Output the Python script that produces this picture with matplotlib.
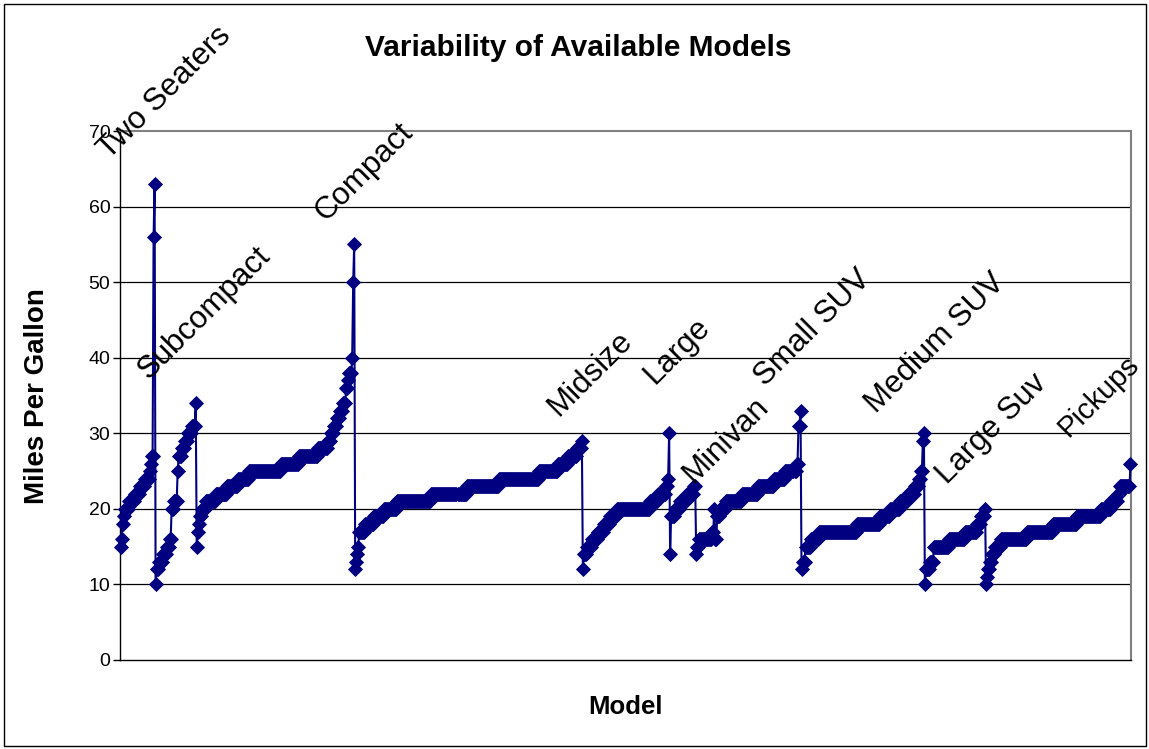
import matplotlib
matplotlib.use("Agg")
import matplotlib.pyplot as plt
from matplotlib.patches import Rectangle

plt.rcParams['font.family'] = ['Liberation Sans', 'DejaVu Sans']

W, H = 1149, 749

# Combined-mpg readings per vehicle class, sorted within each class.
# Each entry is (mpg, number of models at that mpg).
two_seaters = [(15, 1), (16, 1), (18, 1), (19, 1), (20, 4), (21, 6), (22, 5), (23, 5),
               (24, 5), (25, 1), (26, 1), (27, 2), (56, 1), (63, 1)]
subcompact = [(10, 1), (12, 2), (13, 4), (14, 4), (15, 3), (16, 2), (20, 2), (21, 4),
              (25, 1), (27, 3), (28, 3), (29, 3), (30, 4), (31, 4), (34, 1)]
compact = [(15, 1), (17, 1), (18, 1), (19, 2), (20, 4), (21, 10), (22, 11), (23, 11),
           (24, 11), (25, 32), (26, 18), (27, 19), (28, 10), (29, 3), (30, 3), (31, 3),
           (32, 3), (33, 3), (34, 3), (36, 2), (37, 1), (38, 3), (40, 1), (50, 1), (55, 1)]
midsize = [(12, 1), (13, 1), (14, 1), (15, 1), (17, 6), (18, 9), (19, 10), (20, 13),
           (21, 34), (22, 35), (23, 32), (24, 40), (25, 19), (26, 10), (27, 9), (28, 5),
           (29, 1)]
large = [(12, 1), (14, 3), (15, 5), (16, 6), (17, 6), (18, 6), (19, 7), (20, 33),
         (21, 8), (22, 8), (23, 2), (24, 1), (30, 1)]
minivan = [(14, 1), (19, 4), (20, 5), (21, 7), (22, 7), (23, 2)]
small_suv = [(14, 1), (15, 2), (16, 13), (17, 2), (20, 1), (16, 2), (19, 3), (20, 6),
             (21, 16), (22, 16), (23, 16), (24, 11), (25, 11), (26, 2), (31, 2), (33, 1)]
medium_suv = [(12, 1), (13, 3), (15, 5), (16, 8), (17, 38), (18, 23), (19, 10), (20, 10),
              (21, 8), (22, 7), (23, 4), (24, 2), (25, 2), (29, 1), (30, 1)]
large_suv = [(10, 1), (12, 4), (13, 4), (15, 15), (16, 16), (17, 12), (18, 4), (19, 4),
             (20, 1)]
pickups = [(10, 1), (11, 1), (12, 2), (13, 2), (14, 3), (15, 6), (16, 26), (17, 26),
           (18, 24), (19, 24), (20, 10), (21, 7), (22, 2), (23, 10), (26, 1)]

classes = [two_seaters, subcompact, compact, midsize, large, minivan,
           small_suv, medium_suv, large_suv, pickups]
class_names = ["Two Seaters", "Subcompact", "Compact", "Midsize", "Large", "Minivan",
               "Small SUV", "Medium SUV", "Large Suv", "Pickups"]
# baseline start of each rotated class label, in pixels from the top-left corner
label_px = [(109, 160), (149, 380), (325, 222), (558, 417), (654, 385), (693, 484),
            (765, 387), (876, 414), (947, 485), (1068, 438)]
label_size = [22.5, 22.5, 22.5, 22.5, 22.5, 22.5, 22.5, 22.5, 22.5, 21]

y_ticks = [0, 10, 20, 30, 40, 50, 60, 70]

mpg = [v for runs in classes for v, n in runs for _ in range(n)]
idx = list(range(len(mpg)))

fig = plt.figure(figsize=(W / 100, H / 100), dpi=100)
fig.patch.set_facecolor("white")


def fx(px):
    return px / W


def fy(py):
    return 1 - py / H


ax_l, ax_r, ax_t, ax_b = 120, 1131, 131, 660
ax = fig.add_axes([fx(ax_l), fy(ax_b), fx(ax_r) - fx(ax_l), fy(ax_t) - fy(ax_b)])
ax.set_facecolor("white")

navy = "#000080"
ax.plot(idx, mpg, color=navy, linewidth=1.5, marker="D", markersize=7.0,
        markerfacecolor=navy, markeredgecolor=navy, markeredgewidth=0.6,
        zorder=3, clip_on=False)

ax.set_xlim(-0.5, len(mpg) - 0.5)
ax.set_ylim(0, 70)
ax.set_yticks(y_ticks)
ax.set_yticklabels([str(t) for t in y_ticks], fontsize=14)
ax.set_xticks([])
for t in y_ticks[1:-1]:
    ax.axhline(t, color="black", linewidth=0.9, zorder=1)

for side in ("top", "right"):
    ax.spines[side].set_color("#808080")
    ax.spines[side].set_linewidth(1.5)
for side in ("left", "bottom"):
    ax.spines[side].set_color("black")
    ax.spines[side].set_linewidth(1.0)
ax.tick_params(axis="y", direction="out", length=5, width=1, pad=2, colors="black")

for name, (px, py), size in zip(class_names, label_px, label_size):
    fig.text(fx(px), fy(py), name, rotation=45, rotation_mode="anchor",
             ha="left", va="baseline", fontsize=size, color="black")

fig.text(fx(578), fy(48), "Variability of Available Models", ha="center", va="center",
         fontsize=21.5, fontweight="bold")
fig.text(fx(625), fy(707), "Model", ha="center", va="center",
         fontsize=18.5, fontweight="bold")
fig.text(fx(37), fy(396), "Miles Per Gallon", ha="center", va="center", rotation=90,
         fontsize=20, fontweight="bold")

fig.add_artist(Rectangle((fx(4), fy(746)), fx(1146) - fx(4), fy(4) - fy(746),
                         transform=fig.transFigure, fill=False, edgecolor="black",
                         linewidth=1.0))

fig.savefig("out.png", dpi=100, facecolor="white")
